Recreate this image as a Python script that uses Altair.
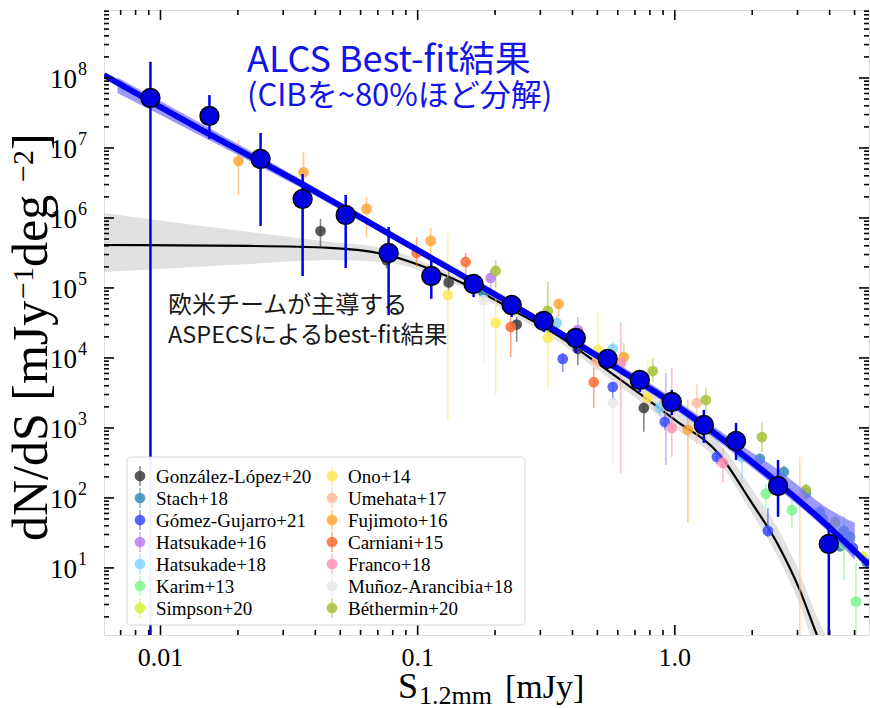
import altair as alt
import pandas as pd

W, H = 765, 625
X_DOMAIN = [0.00603, 5.69]
Y_DOMAIN = [1.10, 9.36e8]

# ---------------- ALCS number counts ----------------
alcs_s = [0.00914, 0.0155, 0.0245, 0.0357, 0.0525, 0.0771, 0.113, 0.165, 0.232, 0.309,
          0.412, 0.548, 0.731, 0.973, 1.297, 1.73, 2.52, 3.97]
alcs_n = [5.18e7, 2.87e7, 6.96e6, 1.87e6, 1.1e6, 3.16e5, 1.48e5, 1.14e5, 5.7e4, 3.38e4,
          1.93e4, 9.7e3, 4.85e3, 2.35e3, 1.1e3, 652, 148, 22]
alcs_lo = [1.0, 1.35e7, 7.7e5, 1.48e5, 1.93e5, 4.1e4, 7.0e4, 7.4e4, 3.85e4, 2.35e4,
           1.18e4, 7.4e3, 3.27e3, 1.53e3, 611, 349, 53.6, 1.0]
alcs_hi = [1.7e8, 5.7e7, 1.64e7, 4.25e6, 2.13e6, 7.4e5, 2.87e5, 1.39e5, 6.97e4, 4.4e4,
           2.51e4, 1.3e4, 6.3e3, 3.49e3, 1.81e3, 1.18e3, 349, 44]

# ALCS best-fit (blue line) and its uncertainty band
fit_s = [0.00603, 0.0142, 0.0348, 0.0851, 0.2085, 0.357, 0.611, 1.045, 1.64, 2.49, 4.01, 5.69]
fit_n = [1.10e8, 1.87e7, 3.16e6, 4.85e5, 7.4e4, 2.28e4, 6.74e3, 1.93e3, 572, 169, 37.3, 11.0]
band_s = [0.0068, 0.0142, 0.0348, 0.0851, 0.2085, 0.357, 0.611, 1.045, 1.64, 2.49, 4.01, 5.01]
band_lo = [6.1e7, 1.52e7, 2.75e6, 4.4e5, 6.9e4, 2.08e4, 6.0e3, 1.64e3, 476, 140, 31, 13]
band_hi = [1.02e8, 2.3e7, 3.63e6, 5.3e5, 7.9e4, 2.5e4, 7.9e3, 2.3e3, 720, 260, 68, 44]

# ASPECS best-fit (black line) and its uncertainty band
asp_s = [0.00603, 0.0222, 0.0455, 0.0731, 0.114, 0.164, 0.2344, 0.357, 0.511, 1.0, 1.496,
         1.959, 2.56, 3.06, 3.57, 3.9]
asp_n = [4.11e5, 3.98e5, 3.73e5, 3.06e5, 1.81e5, 1.0e5, 4.85e4, 2.0e4, 7.94e3, 1.3e3, 411,
         93.6, 19.3, 4.86, 1.1, 0.5]
asp_lo = [1.69e5, 2.2e5, 2.51e5, 2.35e5, 1.55e5, 8.7e4, 4.1e4, 1.65e4, 6.4e3, 1.0e3, 316,
          67, 12.6, 3.0, 0.6, 0.3]
asp_hi = [1.18e6, 6.3e5, 4.54e5, 3.73e5, 2.1e5, 1.15e5, 5.7e4, 2.4e4, 9.8e3, 1.8e3, 611,
          148, 32.7, 8.5, 2.0, 1.0]

# ---------------- literature: (S, dN/dS, lower, upper) ----------------
GONZALEZ_LOPEZ_20 = [(0.0419, 6.5e5, 3.85e5, 9.7e5), (0.0757, 2.5e5, 1.9e5, 3.2e5),
                     (0.132, 1.2e5, 7.9e4, 1.8e5), (0.2427, 3.0e4, 1.69e4, 3.85e4),
                     (0.4195, 1.35e4, 7.9e3, 1.64e4), (0.7576, 1.93e3, 880, 2.27e3)]
STACH_18 = [(0.1806, 8.5e4, 7e4, 1e5), (2.142, 361, 300, 430), (2.656, 235, 190, 290),
            (3.234, 118, 95, 145), (3.665, 63, 52, 76), (3.766, 50, 42, 60),
            (4.385, 20.5, 17, 25), (4.546, 33.8, 28, 40), (4.797, 27.7, 23, 33),
            (5.585, 11.8, 9.5, 14.5)]
GOMEZ_GUJARRO_21 = [(0.3666, 9.7e3, 6.3e3, 1.18e4), (0.5738, 3.85e3, 2.5e3, 4.5e3),
                    (0.9143, 1.22e3, 940, 1.55e3), (1.457, 385, 300, 480),
                    (2.301, 33.8, 27.7, 72), (4.928, 19.3, 15, 24)]
HATSUKADE_16 = [(0.1923, 1.39e5, 8.5e4, 1.81e5), (0.4195, 2.5e4, 1.3e4, 3.85e4),
                (0.9226, 2.5e3, 296, 6.1e3)]
HATSUKADE_18 = [(0.3474, 3.16e4, 2.4e4, 4.0e4), (0.5738, 1.35e4, 1.18e4, 1.7e4),
                (0.8741, 1.93e3, 1.5e3, 2.4e3), (1.823, 385, 164, 600)]
KARIM_13 = [(2.26, 115, 72, 160), (2.853, 67, 38.5, 100), (4.546, 22, 6.7, 55),
            (5.062, 3.3, 1.0, 12)]
SIMPSON_20 = [(5.389, 14.4, 12, 18)]
ONO_14 = [(0.1309, 7.9e4, 1.3e3, 6.1e5), (0.2011, 3.16e4, 2.96e3, 1.2e5),
          (0.3206, 1.93e4, 3.7e3, 3.85e4), (0.5017, 1.3e4, 7.4e3, 4.6e4),
          (0.785, 2.68e3, 1.8e3, 9.4e3)]
UMEHATA_17 = [(0.4972, 9.06e3, 7e3, 1.2e4), (1.218, 2.27e3, 590, 4.2e3),
              (3.064, 100, 1.0, 385)]
FUJIMOTO_16 = [(0.0201, 6.5e6, 2.13e6, 1.3e7), (0.036, 4.5e6, 2.0e6, 8.8e6),
               (0.0633, 1.35e6, 5.35e5, 2.0e6), (0.1124, 4.7e5, 2.7e5, 7.2e5),
               (0.3537, 5.9e4, 3.85e4, 6.7e4), (0.6334, 1.03e4, 6.7e3, 1.64e4),
               (1.124, 940, 45, 2.6e3)]
CARNIANI_15 = [(0.0991, 3.16e5, 2.0e5, 5.35e5), (0.1537, 2.35e5, 1.44e5, 3.16e5),
               (0.2301, 2.77e4, 1.03e4, 3.85e4), (0.484, 4.5e3, 1.93e3, 7.4e3)]
FRANCO_18 = [(0.6166, 8.5e3, 227, 3.27e4), (0.9734, 1.0e3, 385, 7.2e3),
             (1.538, 316, 164, 520)]
MUNOZ_ARANCIBIA_18 = [(0.1806, 6.7e4, 8.8e3, 9.4e4), (0.5738, 2.27e3, 300, 2.5e3)]
BETHERMIN_20 = [(0.2011, 1.75e5, 1.03e5, 2.5e5), (0.3206, 4.7e4, 2.0e4, 1.22e5),
                (0.821, 6.5e3, 4.54e3, 1.0e4), (1.32, 2.5e3, 1.7e3, 3.7e3),
                (2.181, 740, 454, 1.2e3), (3.234, 130, 100, 160), (4.195, 45, 35, 55)]

SOURCES = [
    ("González-López+20", GONZALEZ_LOPEZ_20, "#3c3c3c"),
    ("Stach+18", STACH_18, "#3a8fba"),
    ("Gómez-Gujarro+21", GOMEZ_GUJARRO_21, "#3a4cff"),
    ("Hatsukade+16", HATSUKADE_16, "#b87ef2"),
    ("Hatsukade+18", HATSUKADE_18, "#82d2ff"),
    ("Karim+13", KARIM_13, "#7ef58c"),
    ("Simpson+20", SIMPSON_20, "#d6f53a"),
    ("Ono+14", ONO_14, "#ffe955"),
    ("Umehata+17", UMEHATA_17, "#ffbc9e"),
    ("Fujimoto+16", FUJIMOTO_16, "#ffa63a"),
    ("Carniani+15", CARNIANI_15, "#ff6a33"),
    ("Franco+18", FRANCO_18, "#ff90b2"),
    ("Muñoz-Arancibia+18", MUNOZ_ARANCIBIA_18, "#e8e8e8"),
    ("Béthermin+20", BETHERMIN_20, "#a6c13c"),
]

# tick positions
x_major = [0.01, 0.1, 1.0]
x_major_labels = ["0.01", "0.1", "1.0"]
x_minor = [0.007, 0.008, 0.009, 0.02, 0.03, 0.04, 0.05, 0.06, 0.07, 0.08, 0.09,
           0.2, 0.3, 0.4, 0.5, 0.6, 0.7, 0.8, 0.9, 2, 3, 4, 5]
y_major = [1e1, 1e2, 1e3, 1e4, 1e5, 1e6, 1e7, 1e8]
y_exp = ["1", "2", "3", "4", "5", "6", "7", "8"]
y_minor = [m * 10 ** e for e in range(0, 9) for m in range(2, 10)
           if Y_DOMAIN[0] < m * 10 ** e < Y_DOMAIN[1]]

xs = alt.Scale(type="log", domain=X_DOMAIN, nice=False)
ys = alt.Scale(type="log", domain=Y_DOMAIN, nice=False)
SERIF = "Liberation Serif"
JP = "Noto Sans CJK JP"

# ---------------- frames ----------------
lit_rows = []
for name, rows, col in SOURCES:
    for (s, n, lo, hi) in rows:
        lit_rows.append({"src": name, "S": s, "N": n, "lo": lo, "hi": hi})
lit = pd.DataFrame(lit_rows)

names = [n for n, _, _ in SOURCES]
cscale = alt.Scale(domain=names, range=[c for _, _, c in SOURCES])

alcs = pd.DataFrame({"S": alcs_s, "N": alcs_n, "lo": alcs_lo, "hi": alcs_hi})
fit = pd.DataFrame({"S": fit_s, "N": fit_n})
band = pd.DataFrame({"S": band_s, "lo": band_lo, "hi": band_hi})
asp = pd.DataFrame({"S": asp_s, "N": asp_n})
aspb = pd.DataFrame({"S": asp_s, "lo": asp_lo, "hi": asp_hi})

X = lambda f="S": alt.X(f"{f}:Q", scale=xs, axis=None)
Y = lambda f="N": alt.Y(f"{f}:Q", scale=ys, axis=None)

grey_band = alt.Chart(aspb).mark_area(color="#cdcdcd", opacity=0.6, clip=True,
                                      interpolate="monotone").encode(
    x=X(), y=Y("lo"), y2="hi:Q")
black_line = alt.Chart(asp).mark_line(color="black", strokeWidth=2.2, clip=True,
                                      interpolate="monotone").encode(x=X(), y=Y())

lit_err = alt.Chart(lit).mark_rule(strokeWidth=1.6, opacity=0.6, clip=True).encode(
    x=X(), y=Y("lo"), y2="hi:Q", color=alt.Color("src:N", scale=cscale, legend=None))
lit_pts = alt.Chart(lit).mark_circle(size=115, opacity=0.85, clip=True).encode(
    x=X(), y=Y(), color=alt.Color("src:N", scale=cscale, legend=None))

blue_band = alt.Chart(band).mark_area(color="#6f6fff", opacity=0.7, clip=True,
                                      interpolate="monotone").encode(
    x=X(), y=Y("lo"), y2="hi:Q")
blue_line = alt.Chart(fit).mark_line(color="#0000ee", strokeWidth=6, clip=True,
                                     interpolate="monotone").encode(x=X(), y=Y())
alcs_err = alt.Chart(alcs).mark_rule(color="#0000e6", strokeWidth=2.5, clip=True).encode(
    x=X(), y=Y("lo"), y2="hi:Q")
alcs_pts = alt.Chart(alcs).mark_circle(size=360, color="#0000dc", opacity=1,
                                       stroke="black", strokeWidth=1.4, clip=True).encode(
    x=X(), y=Y())

# ---------------- ticks (inward, all four sides) ----------------
def xticks(vals, L):
    df = pd.DataFrame({"t": vals})
    b = alt.Chart(df).mark_rule(color="black", strokeWidth=1.6).encode(
        x=X("t"), y=alt.value(H), y2=alt.value(H - L))
    t = alt.Chart(df).mark_rule(color="black", strokeWidth=1.6).encode(
        x=X("t"), y=alt.value(0), y2=alt.value(L))
    return [b, t]


def yticks(vals, L):
    df = pd.DataFrame({"t": vals})
    l = alt.Chart(df).mark_rule(color="black", strokeWidth=1.6).encode(
        y=Y("t"), x=alt.value(0), x2=alt.value(L))
    r = alt.Chart(df).mark_rule(color="black", strokeWidth=1.6).encode(
        y=Y("t"), x=alt.value(W), x2=alt.value(W - L))
    return [l, r]


ticks = xticks(x_major, 10) + xticks(x_minor, 5) + yticks(y_major, 10) + yticks(y_minor, 5)

xlab = alt.Chart(pd.DataFrame({"t": x_major, "lab": x_major_labels})).mark_text(
    font=SERIF, fontSize=26, color="black", baseline="alphabetic", align="center").encode(
    x=X("t"), y=alt.value(656), text="lab:N")
ylab_df = pd.DataFrame({"t": y_major, "e": y_exp, "b": ["10"] * len(y_major)})
ylab10 = alt.Chart(ylab_df).mark_text(
    font=SERIF, fontSize=27, color="black", baseline="alphabetic", align="right", dy=10).encode(
    y=Y("t"), x=alt.value(-27), text="b:N")
ylabe = alt.Chart(ylab_df).mark_text(
    font=SERIF, fontSize=18, color="black", baseline="alphabetic", align="left", dy=-3).encode(
    y=Y("t"), x=alt.value(-26), text="e:N")

ONE = pd.DataFrame({"a": [0]})


def label(txt, x, y, size, color="black", font=SERIF, angle=None, align="left",
          baseline="alphabetic"):
    kw = dict(text=txt, font=font, fontSize=size, color=color, align=align,
              baseline=baseline)
    if angle is not None:
        kw["angle"] = angle
    return alt.Chart(ONE).mark_text(**kw).encode(x=alt.value(x), y=alt.value(y))


# y-axis title, written bottom-to-top in pieces so the exponents are true superscripts
YT_BASE, YT_SUP = -57, -71
ytitle = [
    label("dN/dS [mJy", YT_BASE, 531, 50, angle=270),
    label("−1", YT_SUP, 289, 30, angle=270),
    label("\u00a0deg", YT_BASE, 257, 50, angle=270),
    label("−2", YT_SUP, 172, 30, angle=270),
    label("]", YT_BASE, 140, 50, angle=270),
]

texts = [
    label("S", 294, 688, 36),
    label("1.2mm", 315, 694, 26),
    label("[mJy]", 401, 688, 34),
    label("ALCS Best-fit結果", 143, 62, 36, color="#1414e6", font=JP),
    label("(CIBを~80%ほど分解)", 143, 96, 31, color="#1414e6", font=JP),
    label("欧米チームが主導する", 64, 303, 24, color="#1a1a1a", font=JP),
    label("ASPECSによるbest-fit結果", 64, 333, 23.5, color="#1a1a1a", font=JP),
] + ytitle

# ---------------- legend (two columns, drawn as marks) ----------------
legend_box = alt.Chart(ONE).mark_rect(fill="white", stroke="#d2d2d2", strokeWidth=1,
                                      cornerRadius=4, opacity=0.95).encode(
    x=alt.value(23), x2=alt.value(421), y=alt.value(447), y2=alt.value(615))
legend_layers = [legend_box]
for i, (name, _, col) in enumerate(SOURCES):
    c, r = divmod(i, 7)
    sx = 36 + 192 * c
    cy = 466 + 22 * r
    legend_layers.append(alt.Chart(ONE).mark_rule(color=col, strokeWidth=1.6, opacity=0.6).encode(
        x=alt.value(sx), y=alt.value(cy - 10), y2=alt.value(cy + 10)))
    legend_layers.append(alt.Chart(ONE).mark_circle(color=col, size=115, opacity=0.85).encode(
        x=alt.value(sx), y=alt.value(cy)))
    legend_layers.append(label(name, sx + 16, cy + 1, 19, baseline="middle"))

chart = alt.layer(
    grey_band, black_line, lit_err, lit_pts, blue_band, blue_line, alcs_err, alcs_pts,
    *ticks, xlab, ylab10, ylabe, *texts, *legend_layers,
).properties(
    width=W, height=H,
    autosize=alt.AutoSizeParams(type="none"),
    padding={"left": 104, "top": 10, "right": 1, "bottom": 73},
).configure_view(stroke="black", strokeWidth=2).configure(background="white")

chart.save("out.html", embed_options={"renderer": "svg", "actions": False})
